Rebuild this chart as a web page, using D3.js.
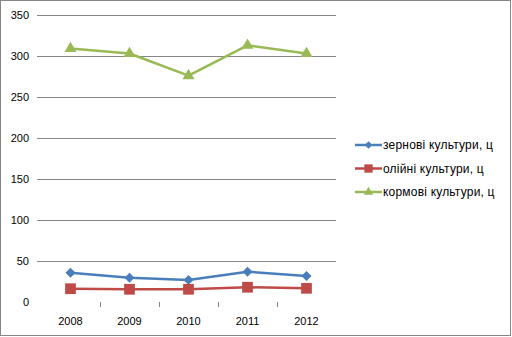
<!DOCTYPE html>
<html>
<head>
<meta charset="utf-8">
<script src="https://cdn.jsdelivr.net/npm/d3@7"></script>
<style>
  html, body { margin: 0; padding: 0; background: #fff; }
  svg { display: block; }
  text { font-family: "Liberation Sans Narrow", "Liberation Sans", Arial, sans-serif; font-size: 11px; fill: #000; }
  .legend text { font-size: 12px; letter-spacing: 0.2px; }
</style>
</head>
<body>
<svg id="chart" width="512" height="337"></svg>
<script>
// Yields by year (ц)
const years = ["2008", "2009", "2010", "2011", "2012"];
const grain = [35.7, 29.6, 26.8, 37, 31.7];
const oilseed = [16.2, 15.5, 15.5, 18, 16.7];
const fodder = [309, 303, 276, 313, 303];
const yTicks = [0, 50, 100, 150, 200, 250, 300, 350];

const seriesNames = ["зернові культури, ц", "олійні культури, ц", "кормові культури, ц"];
const seriesColors = ["#4A7EBB", "#BE4B48", "#98B954"];
const seriesValues = [grain, oilseed, fodder];

// square diamond (rotated square), square and triangle markers
const diamond = {
  draw(ctx, size) {
    const r = Math.sqrt(size / 2);
    ctx.moveTo(0, -r); ctx.lineTo(r, 0); ctx.lineTo(0, r); ctx.lineTo(-r, 0); ctx.closePath();
  }
};
const seriesSymbols = [diamond, d3.symbolSquare, d3.symbolTriangle];
const seriesSizes = [50, 115, 62];

const svg = d3.select("#chart");

// outer frame
svg.append("rect")
  .attr("x", 0.5).attr("y", 0.5).attr("width", 510).attr("height", 335)
  .attr("fill", "#fff").attr("stroke", "#868686").attr("stroke-width", 1);

const plot = { left: 41, right: 336, top: 15, bottom: 302 };

const x = d3.scaleBand().domain(years).range([plot.left, plot.right]);
const y = d3.scaleLinear().domain([0, 350]).range([plot.bottom, plot.top]);

// horizontal gridlines (above zero)
svg.append("g")
  .selectAll("line")
  .data(yTicks.filter(t => t > 0))
  .join("line")
  .attr("x1", 37).attr("x2", plot.right)
  .attr("y1", d => Math.round(y(d)) + 0.5).attr("y2", d => Math.round(y(d)) + 0.5)
  .attr("stroke", "#868686").attr("stroke-width", 1);

// y-axis labels
const yAxis = d3.axisLeft(y).tickValues(yTicks).tickSize(0).tickPadding(0);
const gy = svg.append("g").attr("transform", "translate(29,0)").call(yAxis);
gy.select(".domain").remove();
gy.selectAll("text").style("font-family", null).style("font-size", null).attr("fill", "#000");

// x-axis: category ticks between groups, labels centred
const gx = svg.append("g");
gx.selectAll("line")
  .data(years.slice(1))
  .join("line")
  .attr("x1", d => Math.round(x(d)) + 0.5).attr("x2", d => Math.round(x(d)) + 0.5)
  .attr("y1", plot.bottom).attr("y2", plot.bottom + 5)
  .attr("stroke", "#868686");
gx.selectAll("text")
  .data(years)
  .join("text")
  .attr("x", d => x(d) + x.bandwidth() / 2)
  .attr("y", 325)
  .attr("text-anchor", "middle")
  .text(d => d);

// series lines and markers
const line = d3.line()
  .x((d, i) => x(years[i]) + x.bandwidth() / 2)
  .y(d => y(d));

seriesValues.forEach((vals, s) => {
  svg.append("path")
    .datum(vals)
    .attr("d", line)
    .attr("fill", "none")
    .attr("stroke", seriesColors[s])
    .attr("stroke-width", 2.5)
    .attr("stroke-linejoin", "round");
  svg.append("g")
    .selectAll("path")
    .data(vals)
    .join("path")
    .attr("transform", (d, i) => `translate(${x(years[i]) + x.bandwidth() / 2},${y(d)})`)
    .attr("d", d3.symbol().type(seriesSymbols[s]).size(seriesSizes[s]))
    .attr("fill", seriesColors[s]);
});

// legend
const legend = svg.append("g").attr("class", "legend").attr("transform", "translate(355,145)");
seriesNames.forEach((name, s) => {
  const g = legend.append("g").attr("transform", `translate(0,${s * 23.5})`);
  g.append("line").attr("x1", 0).attr("x2", 27).attr("y1", 0).attr("y2", 0)
    .attr("stroke", seriesColors[s]).attr("stroke-width", 2.5);
  g.append("path").attr("transform", "translate(13.5,0)")
    .attr("d", d3.symbol().type(seriesSymbols[s]).size(seriesSizes[s] * 0.6))
    .attr("fill", seriesColors[s]);
  g.append("text").attr("x", 28).attr("y", 4).text(name);
});
</script>
</body>
</html>
